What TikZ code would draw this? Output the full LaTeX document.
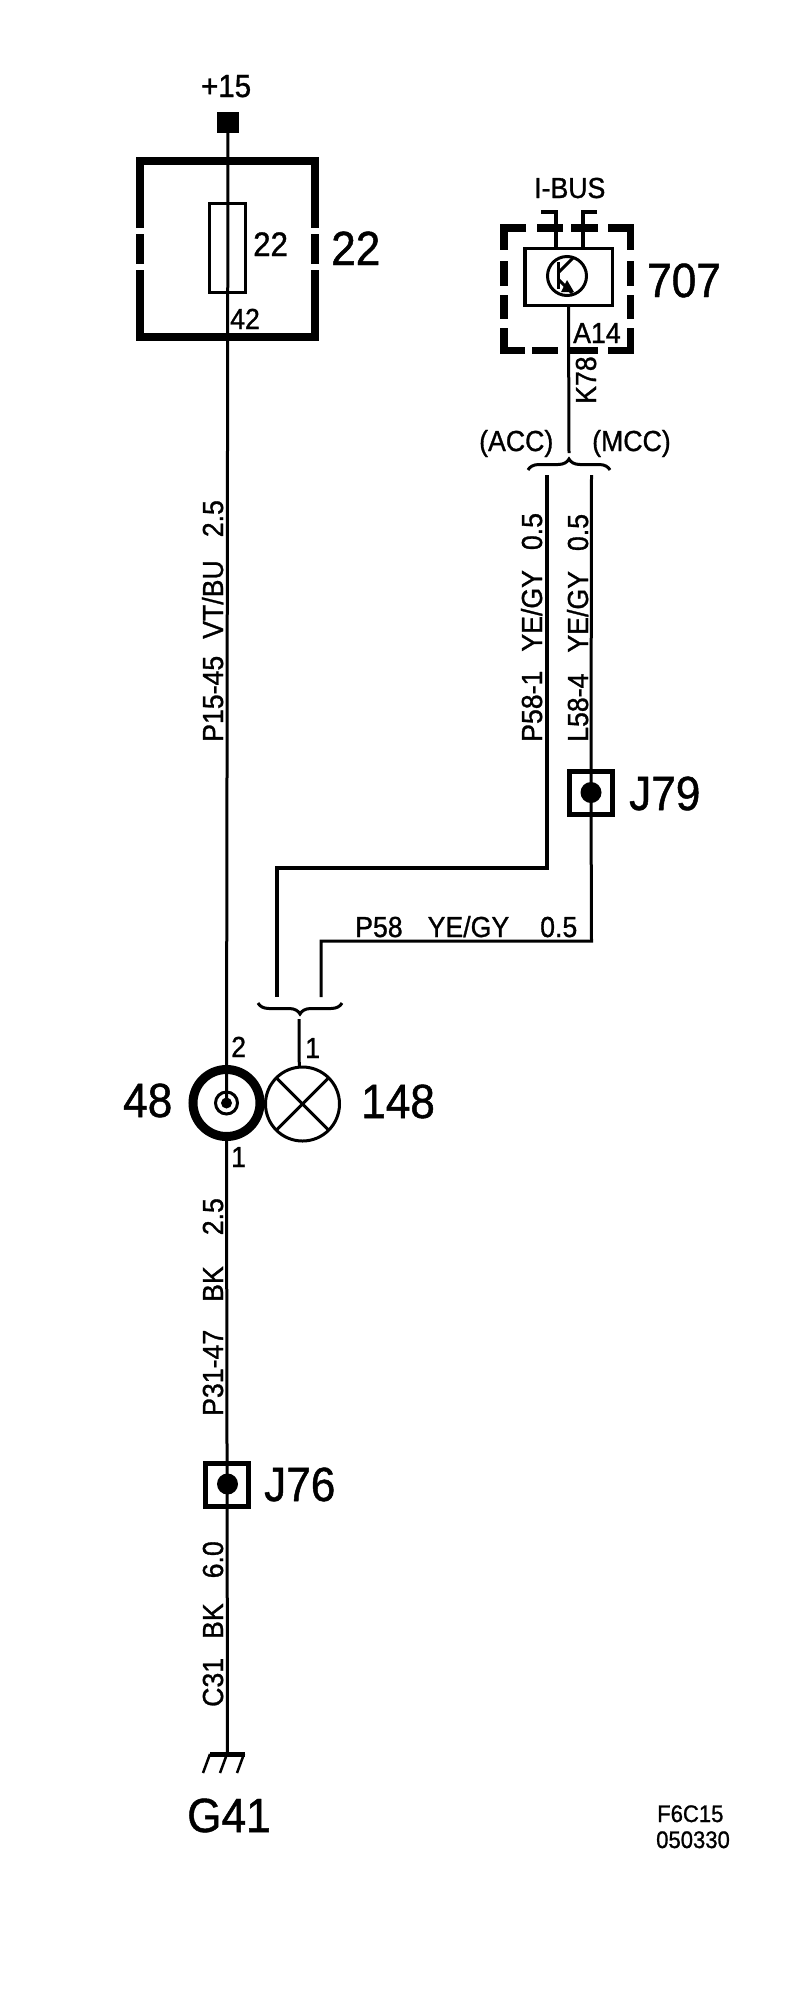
\documentclass[tikz,border=0pt]{standalone}
\usepackage{fontspec}
\setmainfont{Liberation Sans}[FakeStretch=0.92, FakeBold=1]
\usetikzlibrary{decorations.pathreplacing}

\begin{document}
\begin{tikzpicture}[
  x=1pt, y=-1pt,
  wire/.style={line width=3pt, line join=miter},
  heavywire/.style={line width=4pt, line join=miter},
  housing/.style={line width=8pt, line join=miter},
  modulebox/.style={line width=7.5pt, line join=miter},
  splitbrace/.style={line width=3pt, decorate, decoration={brace, amplitude=11pt}},
  symbolbox/.style={draw, rectangle, line width=3pt, inner sep=0pt, outer sep=0pt},
  junction/.style={draw, rectangle, line width=5pt, minimum size=43pt, inner sep=0pt, outer sep=0pt},
  dot/.style={fill, circle, minimum size=21pt, inner sep=0pt},
  smalltext/.style={font=\fontsize{29}{29}\selectfont, inner sep=0pt, anchor=base west},
  bigtext/.style={font=\fontsize{48}{48}\selectfont, inner sep=0pt, anchor=base west},
  tinytext/.style={font=\fontsize{24}{24}\selectfont, inner sep=0pt, anchor=base west},
  wiretext/.style={font=\fontsize{29}{29}\selectfont, inner sep=0pt, anchor=base west, rotate=90}
]
  \useasboundingbox (0,0) rectangle (800,2000);
  \fill[white] (0,0) rectangle (800,2000);

  % Fuse box 22
  \node[fill, rectangle, minimum size=21.5pt, inner sep=0pt] (feed) at (228,122.5) {};
  \node[smalltext, font=\fontsize{32}{32}\selectfont] (feedlabel) at (201,97) {+15};
  \draw[housing] (140,228) -- (140,161) -- (315,161) -- (315,228);
  \draw[housing] (140,234) -- (140,264);
  \draw[housing] (315,234) -- (315,264);
  \draw[housing] (140,270) -- (140,337) -- (315,337) -- (315,270);
  \node[symbolbox, minimum width=36pt, minimum height=89pt] (fuse) at (227.5,248) {};
  \node[smalltext, font=\fontsize{34}{34}\selectfont] (fuselabel) at (253,256) {22};
  \node[bigtext] (boxlabel) at (331,265) {22};
  \node[smalltext] (pin42) at (230,329) {42};

  % Module 707
  \node[smalltext] (ibus) at (534,198) {I-BUS};
  \draw[modulebox] (526,228) -- (504,228) -- (504,250);
  \draw[modulebox] (537,228) -- (563,228);
  \draw[modulebox] (571,228) -- (598,228);
  \draw[modulebox] (608,228) -- (630.5,228) -- (630.5,250);
  \draw[modulebox] (504,261) -- (504,286);
  \draw[modulebox] (504,295) -- (504,319);
  \draw[modulebox] (630.5,261) -- (630.5,286);
  \draw[modulebox] (630.5,295) -- (630.5,319);
  \draw[modulebox] (504,328) -- (504,350.5) -- (525,350.5);
  \draw[modulebox] (532,350.5) -- (558,350.5);
  \draw[modulebox] (570,350.5) -- (598,350.5);
  \draw[modulebox] (608,350.5) -- (630.5,350.5) -- (630.5,328);
  \node[symbolbox, line width=3.5pt, minimum width=87.5pt, minimum height=57pt, fill=white] (module) at (568.5,277) {};
  \node[draw, circle, line width=3pt, minimum size=39pt, inner sep=0pt, outer sep=0pt] (transistor) at (567,276) {};
  \draw[wire] (558,262) -- (558,289);
  \draw[wire] (558,273) -- (573,258);
  \draw[wire] (558,279) -- (572,293);
  \fill (567,280) -- (574,292) -- (561,292) -- cycle;
  \coordinate (bushookl) at (541,212);
  \coordinate (bushookr) at (597,212);
  \draw[line width=3.5pt, line join=miter] (bushookl) -- (556,212) -- (module.north -| 556,0);
  \draw[line width=3.5pt, line join=miter] (bushookr) -- (583,212) -- (module.north -| 583,0);
  \node[smalltext] (pinA14) at (573,343) {A14};
  \node[bigtext] (modulelabel) at (647,297) {707};
  \node[wiretext] (k78) at (596,404) {K78};

  % Split below the module
  \coordinate (splitup) at (569,453);
  \draw[wire] (module.south) -- (splitup);
  \draw[splitbrace] (528,470) -- (610,470);
  \node[smalltext] (acc) at (479,451) {(ACC)};
  \node[smalltext] (mcc) at (592,451) {(MCC)};

  % Wires to the lamp
  \coordinate (acctop) at (547,475);
  \coordinate (accbend) at (547,868);
  \coordinate (accleft) at (277,868);
  \coordinate (accend) at (277,997);
  \draw[heavywire] (acctop) -- (accbend) -- (accleft) -- (accend);
  \node[wiretext] (p581) at (542,742) {P58-1\hspace{19pt}YE/GY\hspace{20pt}0.5};

  \node[junction] (j79) at (591,792.5) {};
  \node[dot] (j79dot) at (591,792.5) {};
  \node[bigtext] (j79label) at (629,810) {J79};
  \coordinate (mcctop) at (591.5,475);
  \coordinate (mccbend) at (591.5,941);
  \coordinate (mccleft) at (321,941);
  \coordinate (mccend) at (321,997);
  \draw[wire] (mcctop) -- (j79.center) -- (mccbend) -- (mccleft) -- (mccend);
  \node[wiretext] (l584) at (588,742) {L58-4\hspace{21pt}YE/GY\hspace{20pt}0.5};
  \node[smalltext] (p58) at (355,937) {P58\hspace{25pt}YE/GY\hspace{31pt}0.5};

  % Ring and lamp
  \node[draw, circle, line width=9pt, minimum size=67pt, inner sep=0pt, outer sep=0pt] (ring) at (226.5,1103) {};
  \node[draw, circle, line width=3pt, minimum size=22pt, inner sep=0pt] (ringin) at (226.5,1103) {};
  \node[fill, circle, minimum size=11pt, inner sep=0pt] (ringdot) at (226.5,1103) {};
  \node[draw, circle, line width=3pt, minimum size=74pt, inner sep=0pt, outer sep=0pt] (lamp) at (302.5,1104) {};
  \draw[wire] (lamp.45) -- (lamp.225);
  \draw[wire] (lamp.135) -- (lamp.315);
  \draw[splitbrace] (342,1003) -- (258,1003);
  \coordinate (lampin) at (299,1019);
  \draw[wire] (lampin) -- (lamp.95);
  \node[smalltext] (pin2) at (231,1057) {2};
  \node[smalltext] (pin1a) at (305,1058) {1};
  \node[smalltext] (pin1b) at (231,1167) {1};
  \node[bigtext] (ringlabel) at (123,1117) {48};
  \node[bigtext] (lamplabel) at (361,1118) {148};

  % Main wire
  \draw[wire] (feed.center) -- (ring.center);
  \node[wiretext] (p1545) at (223,742) {P15-45\hspace{17pt}VT/BU\hspace{23pt}2.5};

  \node[junction] (j76) at (227,1485) {};
  \node[dot] (j76dot) at (227.5,1484) {};
  \node[bigtext] (j76label) at (264,1501) {J76};
  \coordinate (gnd) at (227.5,1754);
  \draw[wire] (ring.south) -- (gnd);
  \node[wiretext] (p3147) at (223,1416) {P31-47\hspace{28pt}BK\hspace{31pt}2.5};
  \node[wiretext] (c31) at (223,1707) {C31\hspace{19pt}BK\hspace{25pt}6.0};

  % Ground G41
  \draw[line width=5pt] (210,1754.5) -- (245,1754.5);
  \draw[line width=2.5pt] (210,1754) -- (203,1773);
  \draw[line width=2.5pt] (227,1754) -- (220,1773);
  \draw[line width=2.5pt] (244,1754) -- (237,1773);
  \node[bigtext] (gndlabel) at (187,1832) {G41};

  % Drawing code
  \node[tinytext] (code) at (657,1822) {F6C15};
  \node[tinytext] (datecode) at (656,1848) {050330};
\end{tikzpicture}
\end{document}
